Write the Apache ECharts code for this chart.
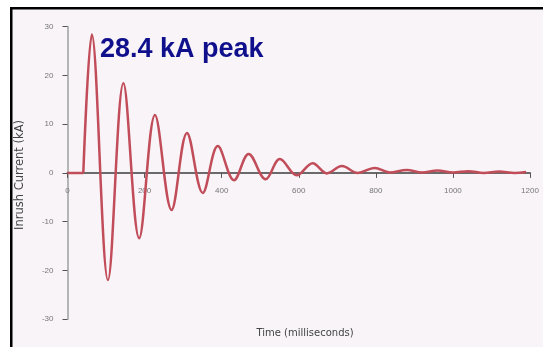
<!DOCTYPE html>
<html>
<head>
<meta charset="utf-8">
<script src="https://cdn.jsdelivr.net/npm/echarts@6/dist/echarts.min.js"></script>
<style>
html,body{margin:0;padding:0;background:#ffffff;}
#chart{width:543px;height:347px;}
</style>
</head>
<body>
<div id="chart"></div>
<script>
// ---- data ----
var annotationText = '28.4 kA peak';
var yAxisTitle = 'Inrush Current (kA)';
var xAxisTitle = 'Time (milliseconds)';
var yTicks = [-30, -20, -10, 0, 10, 20, 30];
var xTicks = [0, 200, 400, 600, 800, 1000, 1200];
// flat lead-in before energisation
var leadTimeMs = [0, 41];
var leadCurrentKA = [0, 0];
// peaks / troughs of the inrush waveform
var timeMs = [41, 63, 105, 145, 186, 227, 270, 310, 351, 390, 432, 470, 514, 551, 595, 636, 673, 712, 753, 797, 836, 880, 920, 960, 1000, 1040, 1080, 1120, 1160, 1190];
var currentKA = [0, 28.4, -22.0, 18.4, -13.4, 11.9, -7.6, 8.2, -4.1, 5.5, -1.5, 3.9, -1.3, 2.85, -0.5, 2.0, -0.1, 1.4, 0, 1.0, 0.1, 0.6, 0.1, 0.5, 0.1, 0.35, 0.0, 0.3, 0.0, 0.2];

function pairs(xs, ys){ return xs.map(function(x,i){ return [x, ys[i]]; }); }

var gridTop = 26.7, gridBottom = 27.9, H = 347;
var plotH = H - gridTop - gridBottom;
var zeroOffset = plotH * (0 - yTicks[0]) / (yTicks[yTicks.length-1] - yTicks[0]);

var chart = echarts.init(document.getElementById('chart'), null, {renderer:'canvas'});
var lineColor = '#c24d5a';
var font = '"Liberation Sans", Arial, sans-serif';
chart.setOption({
  animation: false,
  backgroundColor: '#ffffff',
  graphic: [
    {type:'rect', z:-10, shape:{x:10, y:7, width:533, height:340}, style:{fill:'#f8f4f8'}},
    {type:'rect', z:-9, shape:{x:10, y:7, width:533, height:2.5}, style:{fill:'#000'}},
    {type:'rect', z:-9, shape:{x:10, y:7, width:2.5, height:340}, style:{fill:'#000'}},
    {type:'text', x:305, y:333, z:10,
      style:{text:xAxisTitle, textAlign:'center', textVerticalAlign:'middle', fill:'#444', font:'10px "DejaVu Sans", sans-serif'}},
    {type:'text', x:20, y:175, rotation:Math.PI/2, z:10,
      style:{text:yAxisTitle, textAlign:'center', textVerticalAlign:'middle', fill:'#444', font:'11.5px "DejaVu Sans", sans-serif'}}
  ],
  title: {
    text: annotationText,
    left: 95, top: 31,
    textStyle: {color:'#10108c', fontSize:27, fontWeight:'bold', fontFamily:font}
  },
  grid: {left:67.5, right:13, top:gridTop, bottom:gridBottom},
  xAxis: {
    type:'value', min:xTicks[0], max:xTicks[xTicks.length-1], interval:200,
    offset: -zeroOffset,
    axisLine:{onZero:false, lineStyle:{color:'#6a6a6a', width:2}},
    axisTick:{show:true, length:5, lineStyle:{color:'#555', width:1}},
    axisLabel:{color:'#777', fontSize:8, margin:14, fontFamily:font, formatter:function(v){return String(v);}},
    splitLine:{show:false}
  },
  yAxis: {
    type:'value', min:yTicks[0], max:yTicks[yTicks.length-1], interval:10,
    axisLine:{show:true, onZero:false, lineStyle:{color:'#b5b5b5', width:2}},
    axisTick:{show:true, length:5, lineStyle:{color:'#555', width:1}},
    axisLabel:{color:'#777', fontSize:8, margin:14, fontFamily:font},
    splitLine:{show:false}
  },
  series: [
    {type:'line', data:pairs(leadTimeMs, leadCurrentKA), showSymbol:false, symbol:'none',
      lineStyle:{color:lineColor, width:2.5}, z:5},
    {type:'line', data:pairs(timeMs, currentKA), smooth:0.36, showSymbol:false, symbol:'none',
      lineStyle:{color:lineColor, width:2.5}, z:5}
  ]
});
</script>
</body>
</html>
